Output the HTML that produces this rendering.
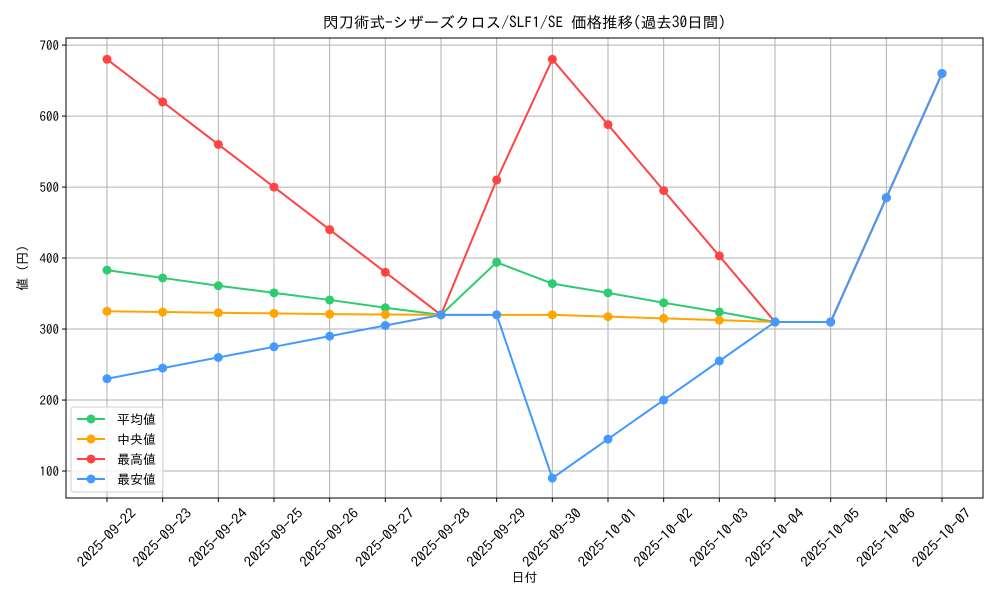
<!DOCTYPE html>
<html><head><meta charset="utf-8"><style>
html,body{margin:0;padding:0;background:#fff;}
svg{display:block;font-family:"IPAGothic","Liberation Sans","Noto Sans CJK JP",sans-serif;}
</style></head><body>
<svg id="chart" width="1000" height="600" xmlns="http://www.w3.org/2000/svg"></svg>
<script>
const categories=["2025-09-22","2025-09-23","2025-09-24","2025-09-25","2025-09-26","2025-09-27","2025-09-28","2025-09-29","2025-09-30","2025-10-01","2025-10-02","2025-10-03","2025-10-04","2025-10-05","2025-10-06","2025-10-07"];
const meanValues=[383,372,361,351,341,330,320,394,364,351,337,324,310,310,485,660];
const medianValues=[325,324,323,322,321,320.5,320,320,320,317.5,315,312.5,310,310,485,660];
const maxValues=[680,620,560,500,440,380,320,510,680,588,495,403,310,310,485,660];
const minValues=[230,245,260,275,290,305,320,320,90,145,200,255,310,310,485,660];
const yTicks=[100,200,300,400,500,600,700];
const seriesNames=["平均値","中央値","最高値","最安値"];
const seriesColors=["#2ecc71","#ffa500","#ff4444","#4499ff"];
const seriesData=[meanValues,medianValues,maxValues,minValues];

const svg=document.getElementById('chart');
const NS="http://www.w3.org/2000/svg";
const L=66,R=983,T=38,B=498;
const yMin=62,yMax=710;
function y(v){return B-(v-yMin)/(yMax-yMin)*(B-T);}
function x(i){return 107+i*(942-107)/(categories.length-1);}
function mk(tag,attrs,parent){const e=document.createElementNS(NS,tag);for(const k in attrs)e.setAttribute(k,attrs[k]);(parent||svg).appendChild(e);return e;}

const grid=mk('g',{});


categories.forEach((c,i)=>{mk('line',{x1:x(i),x2:x(i),y1:T,y2:B,stroke:'#b0b0b0','stroke-width':1},grid);});
yTicks.forEach(v=>{mk('line',{x1:L,x2:R,y1:y(v),y2:y(v),stroke:'#b0b0b0','stroke-width':1},grid);});

const frame=mk('rect',{x:L,y:T,width:R-L,height:B-T,fill:'none',stroke:'#000','stroke-width':1});



yTicks.forEach(v=>{
  mk('line',{x1:L-4,x2:L,y1:y(v),y2:y(v),stroke:'#000'});
  const t=mk('text',{x:L-7,y:y(v)+5,'font-size':13,'text-anchor':'end'});
  t.textContent=v;
  
  
});
categories.forEach((c,i)=>{
  mk('line',{x1:x(i),x2:x(i),y1:B,y2:B+4,stroke:'#000'});
  const t=mk('text',{'font-size':14,'text-anchor':'middle',textLength:76,lengthAdjust:'spacingAndGlyphs',transform:`translate(${x(i)+3},${B+43}) rotate(-45)`});
  t.textContent=c;
  
  
});

seriesData.forEach((d,s)=>{
  const g=mk('g',{});
  
  
  mk('polyline',{points:d.map((v,i)=>x(i)+','+y(v)).join(' '),fill:'none',stroke:seriesColors[s],'stroke-width':2},g);
  d.forEach((v,i)=>{
    const c=mk('circle',{cx:x(i),cy:y(v),r:4.5,fill:seriesColors[s]},g);
    
    
  });
});

const title=mk('text',{x:(L+R)/2,y:28,'font-size':15.5,'text-anchor':'middle'});
title.textContent="閃刀術式-シザーズクロス/SLF1/SE 価格推移(過去30日間)";


const xl=mk('text',{x:(L+R)/2,y:582,'font-size':13,'text-anchor':'middle'});
xl.textContent="日付";


const yl=mk('text',{'font-size':13,'text-anchor':'middle',transform:`translate(27,${(T+B)/2}) rotate(-90)`});
yl.textContent="値 (円)";



const leg=mk('g',{});


mk('rect',{x:71,y:407,width:92,height:85,rx:3,fill:'#fff','fill-opacity':0.8,stroke:'#d0d0d0'},leg);
seriesNames.forEach((n,s)=>{
  const yy=419+s*20;
  const e=mk('g',{},leg);
  
  
  mk('line',{x1:77,x2:105,y1:yy,y2:yy,stroke:seriesColors[s],'stroke-width':2},e);
  mk('circle',{cx:91,cy:yy,r:4.5,fill:seriesColors[s]},e);
  const t=mk('text',{x:117,y:yy+5,'font-size':13},e);
  t.textContent=n;
});
</script>
</body></html>
